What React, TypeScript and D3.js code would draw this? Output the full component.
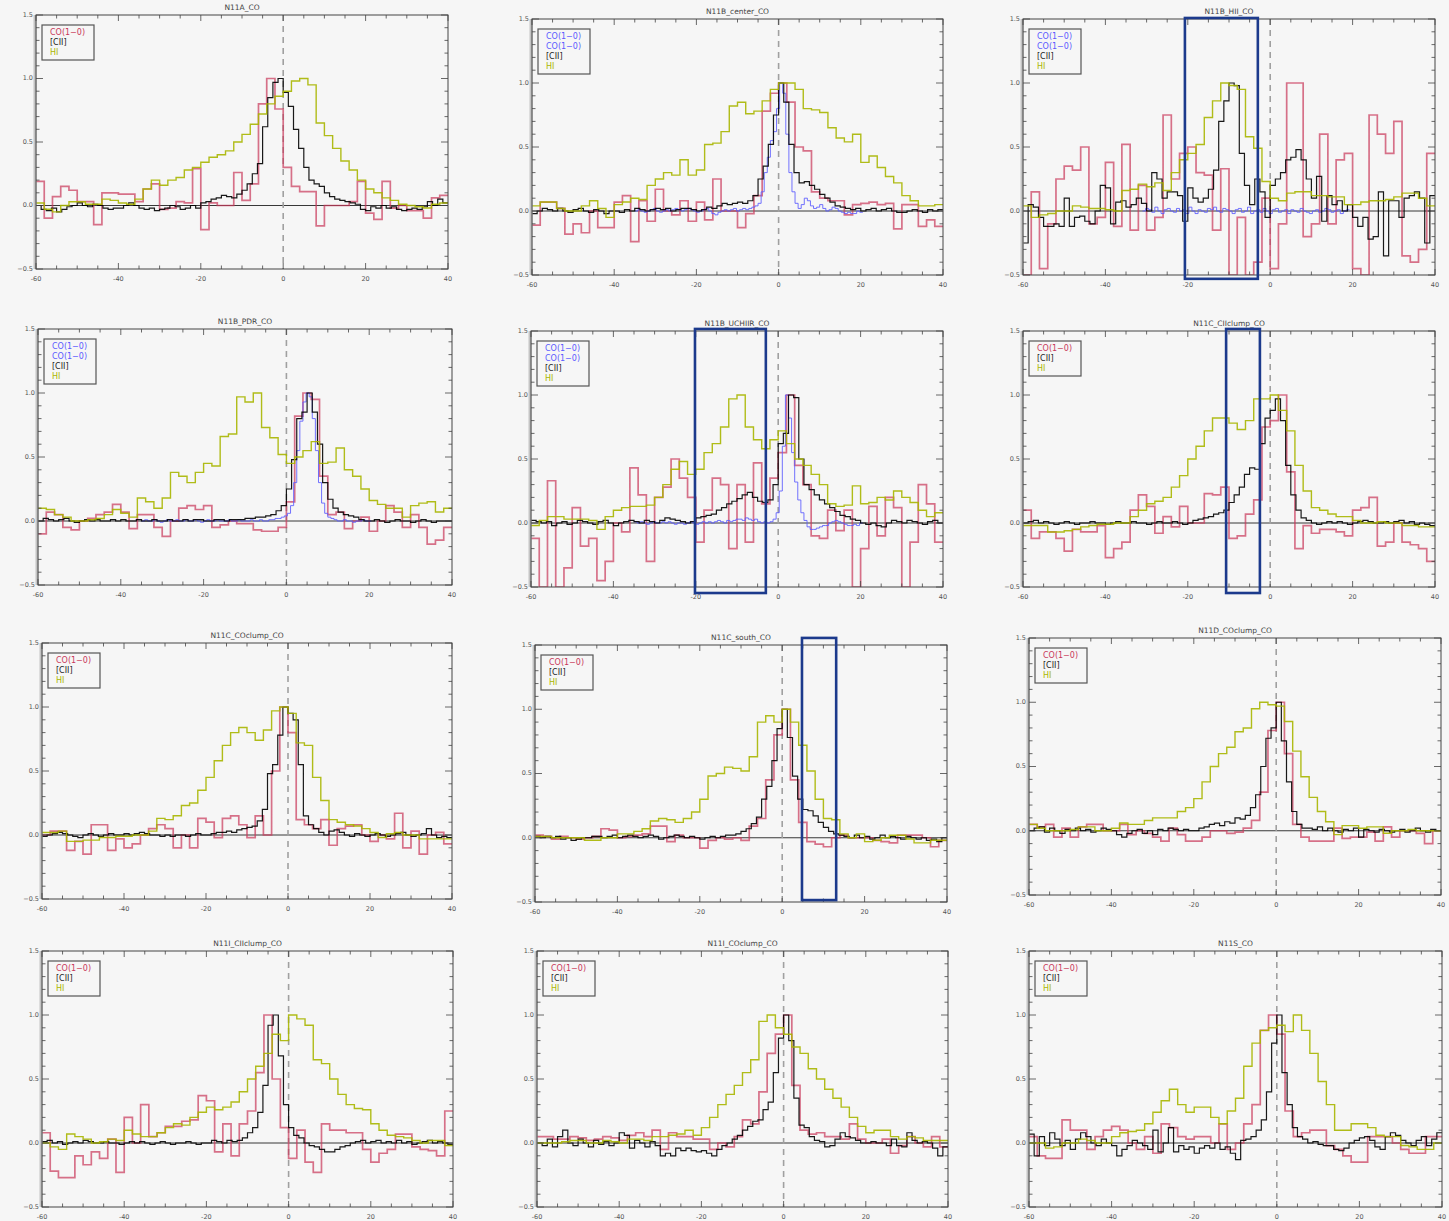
import React from 'react';
import * as d3 from 'd3';

const W = 1449;
const H = 1221;
const X_DOMAIN: [number, number] = [-60, 40];
const Y_DOMAIN: [number, number] = [-0.5, 1.5];
const X_TICK_LABELS = [-60, -40, -20, 0, 20, 40];
const Y_TICK_LABELS = [-0.5, 0.0, 0.5, 1.0, 1.5];

const CO_START = -60, CO_STEP = 2;
const CII_START = -60, CII_STEP = 1.25;
const HI_START = -60, HI_STEP = 2;
const BLUE_STEP = 0.75;
const BLUE_START_WIDE = -35;
const BLUE_START_HII = -31;

const titles = [
  'N11A_CO', 'N11B_center_CO', 'N11B_HII_CO',
  'N11B_PDR_CO', 'N11B_UCHIIR_CO', 'N11C_CIIclump_CO',
  'N11C_COclump_CO', 'N11C_south_CO', 'N11D_COclump_CO',
  'N11I_CIIclump_CO', 'N11I_COclump_CO', 'N11S_CO',
];

// ---------- N11A ----------
const co_N11A = [0.19,-0.1,0.07,0.15,0.12,0.03,0.03,-0.15,0.1,0.1, 0.09,0.09,0.03,0.13,0.17,-0.03,-0.02,0.03,0.02,0.29, -0.19,0.02,0.0,0.0,0.26,0.04,0.17,0.8,1.0,0.76, 0.3,0.15,0.11,0.11,-0.16,0.0,0.0,0.0,0.03,0.19, -0.06,-0.11,0.19,-0.02,0.0,-0.04,-0.04,-0.1,0.06,0.08];
const cii_N11A = [0.0,-0.03,-0.04,-0.02,-0.05,-0.03,-0.01,0.0,0.02,0.0, -0.01,0.01,0.0,-0.02,-0.03,-0.02,-0.02,0.0,0.02,0.0, -0.02,-0.03,-0.02,-0.04,-0.03,-0.02,0.0,-0.01,-0.03,-0.02, 0.0,-0.02, 0.02,0.03,0.05,0.06,0.08,0.07,0.06,0.09,0.12,0.17,0.25,0.33,0.62,0.85,0.97,1.0, 0.89,0.78,0.6,0.45,0.3,0.2,0.17,0.15,0.1,0.07,0.05,0.04,0.03,0.02,0.01,-0.03, -0.04,-0.01,-0.02,0.0,-0.02,-0.01,-0.03,-0.04,-0.03,-0.02,-0.03,-0.01,0.03,0.0,0.05,0.02];
const hi_N11A = [0.02,-0.03,-0.05,0.0,0.03,0.03,0.01,0.01,0.05,0.04, 0.02,0.01,0.05,0.13,0.2,0.16,0.2,0.22,0.28,0.3, 0.34,0.38,0.4,0.43,0.5,0.56,0.64,0.72,0.8,0.86, 0.9,0.98,1.0,0.95,0.65,0.55,0.45,0.35,0.28,0.2, 0.13,0.1,0.06,0.04,0.01,0.0,-0.01,-0.02,0.01,0.02];

// ---------- N11B_center ----------
const co_N11Bc = [-0.11,0.07,0.07,0.02,-0.18,-0.1,-0.17,0.0,-0.13,-0.13, 0.07,0.12,-0.24,0.08,-0.08,0.17,0.0,-0.03,0.08,-0.08, 0.07,-0.07,0.25,0.0,0.0,-0.13,-0.02,0.12,0.78,0.92, 1.0,0.85,0.5,0.47,0.15,0.1,0.08,0.08,-0.03,0.05, 0.06,0.07,0.05,0.06,-0.14,0.05,0.05,-0.12,-0.07,-0.12];
const cii_N11Bc = [-0.02,0.0,0.02,0.01,0.0,0.02,0.0,-0.01,0.01,0.02, 0.0,-0.01,0.01,0.0,-0.02,0.0,0.0,-0.01,0.01,0.0, 0.02,0.01,0.0,0.01,0.02,0.01,0.02,0.0,0.01,0.02, 0.02,0.01,0.0,0.01,0.03,0.02, 0.04,0.06,0.05,0.06,0.07,0.06,0.08,0.12,0.25,0.35, 0.52,0.75,1.0,0.85,0.52,0.3,0.22,0.23,0.2,0.17, 0.13,0.1,0.07,0.04,0.03,0.02,0.01,0.02, 0.0,0.01,0.02,0.0,0.01,0.02,0.0,-0.01,-0.01,0.0,0.01,0.0,-0.01,0.01,0.0,0.01];
const hi_N11Bc = [0.04,0.07,0.07,0.02,0.0,0.0,0.04,0.08,0.02,-0.05, 0.05,0.07,0.1,0.09,0.2,0.25,0.3,0.28,0.4,0.28, 0.32,0.52,0.53,0.62,0.82,0.85,0.76,0.78,0.86,0.95, 1.0,1.0,0.95,0.8,0.79,0.77,0.65,0.57,0.54,0.6, 0.38,0.43,0.34,0.27,0.22,0.12,0.08,0.04,0.04,0.05];
const blue_N11Bc = [0.0,0.01,0.0,-0.01,0.0,0.01,0.02,0.0,-0.01,0.0, 0.01,0.0,0.01,0.02,0.01,0.0,0.01,0.02,0.01,0.0, -0.01,0.0,0.01,0.02,0.0,-0.02,-0.03,-0.01,0.0,0.01, 0.0,0.01,0.02,0.0,0.01,0.02,0.01,0.02,0.03,0.04, 0.06,0.15,0.3,0.42,0.55,0.62,0.8,1.0,0.92,0.6, 0.3,0.15,0.06,0.02,0.05,0.1,0.08,0.04,0.02,0.03, 0.05,0.02,0.0,0.01,0.03,0.02,0.0,-0.01,-0.02,-0.01, -0.02,-0.02,0.0,-0.01];

// ---------- N11B_HII ----------
const co_N11Bh = [-0.5,0.15,-0.45,-0.1,0.25,0.35,0.32,0.5,-0.1,-0.05, 0.38,-0.12,0.52,-0.15,0.2,-0.15,-0.05,0.75,0.25,0.45, 0.5,0.3,0.28,-0.15,0.33,-0.5,-0.05,-0.5,-0.4,0.1, -0.45,-0.1,1.0,1.0,-0.2,-0.1,0.6,-0.1,0.4,0.45, -0.45,-0.5,0.75,0.6,0.45,0.7,-0.35,-0.4,-0.3,0.45];
const cii_N11Bh = [-0.25,0.05,0.03,-0.05,-0.12,-0.12,-0.1,-0.12,0.1,-0.12, -0.05,-0.04,-0.08,-0.1,0.0,0.2,0.18,-0.1,0.07,0.08, 0.03,0.05,0.1,0.06,0.0,0.3,0.25,0.1,0.15,0.15, 0.12,-0.08,0.18,0.1,0.07,0.1,0.17,0.32,0.7,0.86, 1.0,0.98,0.45,0.2,0.05,0.25,0.15,-0.05,0.2,0.25, 0.3,0.4,0.42,0.48,0.4,0.25,0.1,0.27,-0.08,0.12, 0.05,0.08,0.0,0.05,-0.05,-0.12,-0.05,-0.22,-0.2,0.15, -0.35,0.08,0.08,-0.05,0.1,0.12,0.15,0.1,-0.25,0.12];
const hi_N11Bh = [0.04,-0.05,-0.03,-0.02,0.0,0.0,0.04,0.03,0.02,0.02, 0.01,0.0,0.16,0.17,0.21,0.19,0.22,0.16,0.3,0.4, 0.45,0.52,0.73,0.86,1.0,0.98,0.95,0.58,0.49,0.23, 0.1,0.08,0.14,0.15,0.15,0.12,0.12,0.11,0.11,0.05, 0.05,0.07,0.08,0.08,0.09,0.11,0.14,0.14,0.1,0.04];
const blue_N11Bh = [0.0,0.02,0.01,-0.01,0.03,0.0,-0.02,0.01,0.02,0.0, -0.01,0.02,0.0,0.01,-0.02,0.03,0.0,-0.02,0.01,0.0, -0.01,0.02,0.01,0.03,0.0,-0.01,0.02,0.01,0.0,-0.02, 0.01,0.02,-0.01,0.0,0.03,-0.02,0.0,0.01,-0.01,0.02, 0.0,-0.02,0.01,0.02,-0.01,0.0,0.01,-0.02,0.01,0.0, -0.01,0.02,0.0,-0.01,-0.02,0.0,0.01,-0.01,0.0,0.02, 0.01,-0.01,0.0,0.01,-0.02,0.0,0.01];

// ---------- N11B_PDR ----------
const co_N11Bp = [-0.1,0.07,0.05,-0.05,-0.07,0.0,0.02,0.05,0.07,0.13, 0.07,-0.06,0.05,0.05,-0.05,-0.12,0.0,0.1,0.12,0.09, 0.12,-0.05,-0.03,0.0,-0.02,-0.02,-0.07,-0.08,-0.08,-0.05, 0.15,0.82,1.0,0.95,0.35,0.05,0.07,-0.06,0.0,0.03, -0.08,0.0,0.12,0.07,-0.05,0.05,-0.05,-0.18,-0.15,-0.05];
const cii_N11Bp = [0.0,0.02,0.01,0.0,0.01,0.02,0.0,-0.01,0.0,0.01, 0.0,0.01,0.0,0.0,0.01,0.0,0.01,0.0,0.0,0.01, 0.0,0.0,0.01,0.0,0.0,0.01,0.0,0.0,0.01,0.0, 0.01,0.01,0.0,0.0,0.01,0.01,0.0,0.01,0.01,0.01, 0.02,0.02,0.03,0.03, 0.04,0.05,0.08,0.12,0.25,0.48,0.8,0.85,1.0,0.85, 0.6,0.3,0.17,0.1,0.07,0.05,0.04,0.03,0.01,0.0, 0.0,0.01,0.0,-0.01,0.0,0.01,0.0,0.0,-0.01,0.0,0.01,0.0,-0.01,0.0,0.0,0.0];
const hi_N11Bp = [0.1,0.09,0.05,0.03,0.0,0.0,0.01,0.02,0.05,0.09, 0.06,0.03,0.18,0.15,0.1,0.18,0.38,0.35,0.3,0.38, 0.45,0.43,0.66,0.68,0.97,0.93,1.0,0.73,0.65,0.52, 0.45,0.5,0.55,0.62,0.45,0.46,0.57,0.4,0.35,0.25, 0.16,0.13,0.1,0.1,0.03,0.12,0.14,0.15,0.07,0.1];
const blue_N11Bp = [0.0,0.01,0.0,0.0,0.01,0.0,-0.01,0.0,0.01,0.0, 0.0,0.01,0.0,0.0,0.01,0.0,0.0,0.01,0.0,-0.01, 0.0,0.01,0.0,0.0,0.01,0.0,0.0,0.0,0.01,0.0, 0.0,0.01,0.0,0.0,0.0,0.01,0.0,0.0,0.01,0.0, 0.0,0.01,0.01,0.02,0.02,0.03, 0.04,0.06,0.12,0.3,0.55,0.78,0.93,1.0,0.97,0.8, 0.55,0.3,0.14,0.06,0.03,0.02,0.01, 0.0,0.0,0.01,0.0,0.0,-0.01,0.0,0.0,0.01,0.0,0.0];

// ---------- N11B_UCHIIR ----------
const co_N11Bu = [-0.12,-0.5,0.33,-0.5,-0.35,0.12,-0.18,-0.12,-0.45,-0.3, 0.0,-0.07,0.43,0.22,-0.3,0.2,0.28,0.5,0.35,0.2, -0.15,0.1,0.35,0.3,-0.2,0.3,-0.15,0.47,0.15,0.35, 0.55,1.0,0.45,0.3,-0.1,-0.12,0.1,-0.06,0.1,-0.5, -0.2,0.13,-0.1,0.2,0.12,-0.5,-0.15,0.3,0.15,-0.15];
const cii_N11Bu = [0.02,0.01,0.0,0.01,-0.02,0.0,0.01,-0.01,0.0,0.02, 0.01,0.0,-0.01,0.01,0.02,0.0,-0.02,0.0,0.01,0.02, 0.01,0.0,0.02,0.01,0.0,0.02,0.04,0.03,0.02,0.01, 0.0,0.01, 0.04,0.05,0.06,0.07,0.1,0.12,0.15,0.17,0.19,0.22, 0.24,0.2,0.17,0.16,0.18,0.3,0.62,0.7,1.0,0.98, 0.5,0.3,0.26,0.22,0.18,0.15,0.12,0.09,0.06,0.05, 0.03,0.02, 0.0,-0.01,0.0,-0.02,-0.03,0.0,0.02,0.01,0.0,0.02,0.01,0.0,-0.01,0.01,0.02,0.0];
const hi_N11Bu = [-0.02,0.02,0.05,0.05,0.03,0.03,0.03,0.02,-0.05,0.05, 0.1,0.12,0.13,0.13,0.14,0.2,0.3,0.42,0.48,0.38, 0.42,0.55,0.62,0.75,0.97,1.0,0.75,0.65,0.58,0.65, 0.72,0.62,0.5,0.45,0.38,0.3,0.15,0.13,0.14,0.29, 0.15,0.16,0.2,0.18,0.25,0.2,0.16,0.1,0.05,0.08];
const blue_N11Bu = [0.01,0.0,0.01,0.0,-0.01,0.0,0.01,0.0,0.0,0.01, 0.0,0.01,0.0,-0.01,0.0,0.0,-0.01,0.0,0.01,0.0, -0.01,0.0,0.01,0.0,0.01,0.0,0.01,0.02,0.01,0.0, 0.02,0.01,0.02,0.03, 0.03,0.02,0.04,0.03,0.02,0.03,0.01,0.0,0.01,0.0, 0.01,0.03,0.08,0.25,0.6,1.0,0.82,0.55,0.32,0.18, 0.08,0.02,-0.03,-0.05,-0.05,-0.04,-0.03,-0.02,-0.02,0.0, 0.01,0.02,0.01,0.0,-0.01,-0.02,-0.02,-0.01,-0.02,0.0];

// ---------- N11C_CIIclump ----------
const co_N11Cc = [0.1,-0.12,-0.07,-0.07,-0.12,-0.22,-0.05,-0.07,-0.07,-0.02, -0.27,-0.2,-0.15,0.1,0.22,0.13,-0.08,0.05,-0.03,0.13, 0.0,0.0,0.23,0.22,0.28,-0.12,-0.1,0.07,0.18,0.75, 0.8,1.0,0.4,-0.2,-0.02,-0.08,-0.05,-0.05,-0.07,-0.1, 0.1,0.12,0.2,-0.18,-0.15,0.0,-0.15,-0.17,-0.2,-0.3];
const cii_N11Cc = [0.0,0.01,0.02,0.0,0.01,0.0,-0.01,0.0,0.01,0.0, -0.01,0.0,0.0,0.01,0.0,0.0,-0.01,0.0,0.01,0.0, 0.0,0.01,0.0,0.0,-0.01,0.0,0.01,0.0,0.0,0.01, 0.0,-0.01, 0.0,0.02,0.03,0.04,0.05,0.07,0.08,0.1,0.16,0.22, 0.28,0.38,0.43,0.42,0.62,0.82,0.88,0.97,0.8,0.45, 0.22,0.1,0.04,0.02,0.0,-0.01, 0.0,0.01,0.0,0.01,0.0,-0.01,0.0,0.01,0.02,0.01, 0.0,0.0,0.01,0.0,0.01,0.02,0.0,0.01,-0.01,0.0, -0.01,-0.02];
const hi_N11Cc = [-0.02,-0.02,-0.02,-0.07,-0.07,-0.06,-0.05,-0.03,-0.02,-0.01, -0.01,0.0,0.0,0.05,0.1,0.15,0.17,0.2,0.28,0.37, 0.5,0.6,0.72,0.82,0.82,0.78,0.73,0.8,0.97,0.97, 1.0,0.88,0.72,0.45,0.25,0.12,0.1,0.07,0.05,0.05, 0.02,0.0,0.0,0.01,0.0,0.0,-0.02,-0.02,-0.03,-0.03];

// ---------- N11C_COclump ----------
const co_N11Cco = [0.0,0.03,0.03,-0.12,-0.05,-0.15,0.08,0.08,-0.12,-0.03, -0.1,-0.07,0.0,0.05,0.08,0.05,-0.1,0.0,-0.1,0.13, 0.1,-0.02,0.13,0.15,0.08,-0.02,0.15,0.0,0.5,1.0, 0.8,0.12,0.08,0.05,0.12,-0.08,0.05,0.07,0.08,0.0, -0.05,0.0,-0.03,0.17,-0.1,0.03,-0.15,0.0,0.02,-0.07];
const cii_N11Cco = [-0.01,0.0,0.01,0.02,0.01,0.0,-0.01,-0.02,0.0,0.01, 0.0,-0.01,0.0,0.01,0.0,0.0,0.01,0.0,0.01,0.02, 0.01,0.0,0.0,-0.01,0.0,-0.01,0.0,0.0,-0.01,0.0, 0.01,0.0,0.0,0.01,0.02,0.02,0.03,0.02,0.04, 0.05,0.06,0.07,0.11,0.2,0.48,0.55,0.78,1.0,0.95, 0.9,0.55,0.15,0.08,0.05,0.02,0.0,0.03,0.04,0.02, 0.0, -0.01,0.01,0.0,-0.01,0.0,0.01,0.0,-0.01,0.0,0.01, 0.02,0.0,-0.01,0.0,0.01,0.05,0.0,-0.02,-0.01,-0.02];
const hi_N11Cco = [0.02,0.02,0.03,-0.05,-0.05,-0.04,-0.04,-0.02,-0.02,-0.01, -0.01,0.0,0.0,0.03,0.13,0.12,0.15,0.23,0.25,0.35, 0.45,0.58,0.7,0.8,0.84,0.8,0.74,0.82,0.97,1.0, 0.95,0.72,0.7,0.45,0.27,0.12,0.1,0.08,0.07,0.05, 0.02,-0.02,0.01,0.02,0.0,0.0,-0.03,-0.03,-0.03,-0.03];

// ---------- N11C_south ----------
const co_N11Cs = [0.02,0.01,-0.01,0.01,0.0,-0.01,0.0,0.01,0.07,0.06, 0.0,0.01,0.02,0.03,0.09,0.09,-0.03,0.02,0.0,0.0, -0.08,-0.02,0.0,-0.01,0.0,-0.02,0.09,0.15,0.45,0.8, 1.0,0.45,0.12,-0.03,-0.05,-0.07,0.0,0.02,0.0,0.0, 0.0,-0.02,-0.03,-0.04,0.02,0.02,0.02,0.0,-0.07,-0.02];
const cii_N11Cs = [0.01,0.0,0.01,0.0,0.01,-0.01,0.0,-0.02,-0.01,0.0, 0.0,0.01,0.01,0.0,0.01,0.02,0.0,0.01,0.02,0.01, 0.0,0.01,0.02,0.01,-0.01,0.0,0.01,0.02,0.01,0.0, 0.01,0.0,-0.01,0.0,0.01,0.0, 0.01,0.02,0.02,0.03,0.05,0.07,0.11,0.16,0.3,0.4, 0.6,0.85,1.0,0.78,0.48,0.3,0.22,0.21,0.17,0.12, 0.08,0.05,0.03,0.02, 0.01,0.0,0.02,0.0,0.01,-0.01,0.0,0.02,0.0,0.01, 0.0,-0.01,0.01,0.0,-0.01,0.0,-0.02,-0.01,-0.03,0.0];
const hi_N11Cs = [0.01,0.01,0.0,0.0,0.0,0.0,-0.02,-0.02,0.0,0.0, 0.03,0.03,0.05,0.07,0.13,0.15,0.14,0.12,0.15,0.2, 0.3,0.48,0.5,0.55,0.54,0.52,0.63,0.9,0.95,0.9, 1.0,0.9,0.72,0.52,0.3,0.15,0.14,0.03,0.0,0.03, -0.03,-0.02,0.0,0.02,0.02,-0.01,-0.04,-0.04,-0.02,-0.02];

// ---------- N11D_COclump ----------
const co_N11D = [0.05,0.03,0.05,-0.05,0.02,-0.05,0.03,0.05,0.05,0.0, 0.0,0.05,-0.03,0.0,-0.02,-0.05,-0.08,0.02,-0.03,-0.08, -0.08,-0.05,0.0,0.0,-0.02,-0.01,0.02,0.08,0.3,0.78, 1.0,0.6,0.05,-0.05,-0.08,-0.08,-0.08,0.02,-0.06,-0.05, -0.05,-0.01,-0.08,0.03,-0.05,0.0,0.0,-0.02,-0.1,0.0];
const cii_N11D = [0.0,0.02,0.03,-0.01,0.02,0.0,-0.02,0.01,0.0,0.02, 0.0,0.01,-0.01,0.0,0.02,0.01,0.0,-0.03,-0.05,-0.02, 0.0,0.01,-0.02,0.0,-0.03,0.01,0.0,0.02,0.01,0.0, 0.01,0.0, 0.0,0.02,0.03,0.05,0.06,0.04,0.07,0.06,0.1,0.09, 0.12,0.18,0.28,0.5,0.72,0.8,1.0,0.7,0.38,0.15, 0.05,0.02,0.02,0.01,0.03,0.0,0.02,0.0,-0.01,0.01, 0.0,0.02, -0.05,0.01,0.0,-0.01,0.01,0.0,-0.01,0.0,0.01,-0.01,0.0,0.02,0.0,-0.01,0.01,0.0];
const hi_N11D = [0.05,0.02,0.0,0.0,0.0,0.01,0.03,0.03,0.0,0.0, 0.02,0.06,0.05,0.05,0.08,0.1,0.1,0.1,0.15,0.18, 0.25,0.38,0.5,0.6,0.65,0.77,0.8,0.95,1.0,0.98, 0.97,0.85,0.62,0.42,0.26,0.15,0.07,-0.03,0.04,0.04, 0.02,0.03,0.03,-0.02,0.0,0.0,0.01,0.0,0.0,0.0];

// ---------- N11I_CIIclump ----------
const co_N11Ic = [0.08,-0.22,-0.27,-0.27,-0.1,-0.17,-0.07,-0.12,0.03,-0.23, 0.2,0.0,0.3,0.05,0.08,0.13,0.13,0.17,0.18,0.37, 0.33,-0.07,0.15,-0.1,0.15,0.25,0.55,1.0,0.5,0.12, -0.12,0.1,-0.15,-0.23,0.15,0.1,0.1,0.08,0.08,-0.05, -0.15,-0.08,-0.05,0.07,0.07,-0.03,-0.05,-0.06,-0.1,0.25];
const cii_N11Ic = [0.01,0.02,0.0,0.01,-0.01,0.0,0.01,0.0,0.02,0.01, 0.0,0.0,0.01,0.0,0.0,-0.01,0.0,0.01,0.0,0.01, 0.0,-0.01,0.0,0.01,0.0,-0.01,0.0,0.0,0.01,0.0, -0.01,0.0,0.0,0.02,0.01,0.0,0.02,0.01, 0.02,0.04,0.08,0.12,0.24,0.45,0.92,1.0,0.68,0.3, 0.12,0.06,0.04,0.0,-0.02,-0.03,-0.05,-0.07,-0.07,-0.05, -0.03,-0.02,0.0, 0.01,0.02,0.0,0.01,0.02,0.0,0.01,0.0,0.02,0.0, 0.01,-0.01,0.0,0.01,0.02,0.0,0.01,0.0,-0.01];
const hi_N11Ic = [0.0,-0.03,-0.05,0.07,0.05,0.03,0.0,0.01,0.03,0.02, 0.1,0.07,0.05,0.05,0.08,0.12,0.15,0.14,0.2,0.24, 0.28,0.26,0.28,0.32,0.4,0.5,0.6,0.7,0.85,0.8, 1.0,0.97,0.92,0.65,0.62,0.5,0.38,0.3,0.27,0.26, 0.15,0.1,0.06,0.05,0.04,0.02,0.0,0.02,0.02,-0.02];

// ---------- N11I_COclump ----------
const co_N11Ico = [0.05,0.05,0.03,0.03,0.05,0.04,0.02,0.03,0.05,0.04, 0.02,0.06,0.08,0.05,0.1,-0.05,0.08,0.05,0.05,0.03, 0.03,-0.05,0.0,-0.03,0.05,0.18,0.15,0.4,0.7,0.85, 1.0,0.45,0.1,0.07,0.08,0.05,0.05,0.03,0.15,0.03, 0.0,0.0,0.03,-0.08,-0.02,0.05,0.0,-0.03,0.05,-0.03];
const cii_N11Ico = [0.0,-0.02,0.03,-0.03,0.05,0.1,0.0,-0.02,0.03,0.0, -0.03,0.02,-0.01,0.01,-0.02,0.0,0.08,0.06,-0.04,0.02, 0.0,-0.03,0.01,-0.02, -0.1,-0.08,-0.1,-0.04,-0.06,-0.04,-0.06,-0.07,-0.06,-0.08, -0.1,-0.05,-0.02,0.0,0.03,0.06,0.1,0.13,0.17,0.18, 0.26,0.32,0.55,0.82,1.0,0.8,0.35,0.14,0.12,0.05, 0.02,0.01, -0.03,-0.02,0.03,0.08,0.05,0.04,0.02,0.0,0.0,0.01, 0.0,0.0,-0.02,0.03,-0.02,-0.03,0.08,0.02,0.0,0.01, 0.0,-0.04,-0.1,-0.03];
const hi_N11Ico = [0.0,0.0,0.0,0.01,0.02,0.02,0.0,0.0,0.02,0.01, 0.0,0.03,0.03,0.02,0.05,0.05,0.06,0.07,0.1,0.06, 0.12,0.2,0.3,0.38,0.45,0.55,0.65,0.95,1.0,0.9, 0.85,0.75,0.7,0.58,0.5,0.42,0.35,0.28,0.2,0.13, 0.08,0.1,0.1,0.05,0.03,0.05,0.04,0.02,0.02,0.02];

// ---------- N11S ----------
const co_N11S = [0.05,-0.1,-0.12,-0.12,0.18,0.1,0.1,-0.05,0.05,0.1, 0.13,0.1,0.0,-0.05,0.05,-0.08,0.15,0.12,0.05,0.03, 0.05,0.05,0.0,0.15,-0.05,0.0,0.15,0.3,0.88,1.0, 0.85,0.25,0.05,0.08,0.1,0.1,-0.02,-0.05,-0.1,-0.15, -0.15,0.05,0.05,0.05,0.0,-0.05,-0.08,-0.08,0.05,0.05];
const cii_N11S = [0.07,-0.1,0.05,-0.02,0.08,0.03,-0.02,0.02,-0.05,0.03, 0.08,0.05,0.0,-0.02,0.03,0.0,-0.02,-0.1,-0.05,-0.02, 0.02,0.0,-0.02,-0.05,0.1,-0.07,0.0,0.12,-0.07,-0.02, -0.05,-0.03,-0.08,-0.04,-0.02,-0.04,0.0,-0.05,-0.03,-0.08, -0.13,0.02,0.03,0.05,0.1,0.18,0.4,0.78,1.0,0.55, 0.3,0.12,0.05,0.03,0.0,0.01,-0.01,-0.02,-0.02,-0.05, -0.06,-0.04,0.0,0.02,0.04,0.05,0.02,-0.03,-0.05,0.05, 0.08,0.06,0.02,0.0,-0.02,0.02,0.05,-0.02,0.03,0.08];
const hi_N11S = [0.0,0.0,-0.04,-0.03,0.0,0.0,0.03,0.02,0.0,0.0, 0.05,0.08,0.09,0.1,0.15,0.24,0.33,0.42,0.3,0.24, 0.28,0.28,0.2,0.15,0.25,0.35,0.6,0.78,0.88,0.9, 0.92,0.87,1.0,0.88,0.7,0.48,0.3,0.1,0.1,0.15, 0.15,0.12,0.06,0.05,0.05,-0.02,-0.03,-0.05,-0.05,0.0];

// highlighted velocity windows: [vLow, vHigh, yTop, yBottom] in data units
const box_N11Bh = [-20.7, -3.0, 1.508, -0.53];
const box_N11Bu = [-20.2, -3.0, 1.516, -0.547];
const box_N11Cc = [-10.7, -2.5, 1.516, -0.547];
const box_N11Cs = [4.8, 13.1, 1.555, -0.485];

// plot-area layout (pixels)
const panelLayout = [
  { x0: 36, x1: 448, y0: 15, y1: 269 },
  { x0: 532, x1: 943, y0: 19, y1: 275 },
  { x0: 1023, x1: 1435, y0: 19, y1: 275 },
  { x0: 38, x1: 452, y0: 329, y1: 585 },
  { x0: 531, x1: 943, y0: 331, y1: 587 },
  { x0: 1023, x1: 1435, y0: 331, y1: 587 },
  { x0: 42, x1: 452, y0: 643, y1: 899 },
  { x0: 535, x1: 947, y0: 645, y1: 902 },
  { x0: 1029, x1: 1441, y0: 638, y1: 895 },
  { x0: 42, x1: 453, y0: 951, y1: 1207 },
  { x0: 537, x1: 948, y0: 951, y1: 1207 },
  { x0: 1029, x1: 1442, y0: 951, y1: 1207 },
];

type Panel = {
  title: string;
  co: number[];
  cii: number[];
  hi: number[];
  blue?: number[];
  blueStart?: number;
  box?: number[];
};

const panels: Panel[] = [
  { title: titles[0], co: co_N11A, cii: cii_N11A, hi: hi_N11A },
  { title: titles[1], co: co_N11Bc, cii: cii_N11Bc, hi: hi_N11Bc, blue: blue_N11Bc, blueStart: BLUE_START_WIDE },
  { title: titles[2], co: co_N11Bh, cii: cii_N11Bh, hi: hi_N11Bh, blue: blue_N11Bh, blueStart: BLUE_START_HII, box: box_N11Bh },
  { title: titles[3], co: co_N11Bp, cii: cii_N11Bp, hi: hi_N11Bp, blue: blue_N11Bp, blueStart: BLUE_START_WIDE },
  { title: titles[4], co: co_N11Bu, cii: cii_N11Bu, hi: hi_N11Bu, blue: blue_N11Bu, blueStart: BLUE_START_WIDE, box: box_N11Bu },
  { title: titles[5], co: co_N11Cc, cii: cii_N11Cc, hi: hi_N11Cc, box: box_N11Cc },
  { title: titles[6], co: co_N11Cco, cii: cii_N11Cco, hi: hi_N11Cco },
  { title: titles[7], co: co_N11Cs, cii: cii_N11Cs, hi: hi_N11Cs, box: box_N11Cs },
  { title: titles[8], co: co_N11D, cii: cii_N11D, hi: hi_N11D },
  { title: titles[9], co: co_N11Ic, cii: cii_N11Ic, hi: hi_N11Ic },
  { title: titles[10], co: co_N11Ico, cii: cii_N11Ico, hi: hi_N11Ico },
  { title: titles[11], co: co_N11S, cii: cii_N11S, hi: hi_N11S },
];

const COLORS = {
  co: '#c9385a',
  cii: '#000000',
  hi: '#a9b600',
  blue: '#5a5aff',
  box: '#1c3a8c',
  bg: '#f6f6f6',
};

const FONT = '"DejaVu Sans", "Liberation Sans", Arial, sans-serif';

function stepPath(values: number[], start: number, step: number, xs: d3.ScaleLinear<number, number>, ys: d3.ScaleLinear<number, number>) {
  const pts: [number, number][] = values.map((v, i) => [start + i * step, v]);
  pts.push([start + values.length * step, values[values.length - 1]]);
  return d3.line<[number, number]>().x(d => xs(d[0])).y(d => ys(d[1])).curve(d3.curveStepAfter)(pts) || '';
}

const xMinor = d3.range(-60, 41, 5);
const yMinor = d3.range(-5, 16).map(i => i / 10);

function PanelView({ p, lay, idx }: { p: Panel; lay: typeof panelLayout[0]; idx: number }) {
  const xs = d3.scaleLinear().domain(X_DOMAIN).range([lay.x0, lay.x1]);
  const ys = d3.scaleLinear().domain(Y_DOMAIN).range([lay.y1, lay.y0]);
  const clipId = `clip-${idx}`;
  const legend = p.blue
    ? [{ t: 'CO(1\u22120)', c: COLORS.blue }, { t: 'CO(1\u22120)', c: COLORS.blue }, { t: '[CII]', c: '#222' }, { t: 'HI', c: COLORS.hi }]
    : [{ t: 'CO(1\u22120)', c: COLORS.co }, { t: '[CII]', c: '#222' }, { t: 'HI', c: COLORS.hi }];
  const fmtY = d3.format('.1f');
  return (
    <g>
      <defs>
        <clipPath id={clipId}>
          <rect x={lay.x0} y={lay.y0} width={lay.x1 - lay.x0} height={lay.y1 - lay.y0} />
        </clipPath>
      </defs>
      {/* title */}
      <text x={(lay.x0 + lay.x1) / 2} y={lay.y0 - 5} textAnchor="middle" fontSize={7.5} fill="#444" fontFamily={FONT}>{p.title}</text>
      {/* zero line and dashed v=0 */}
      <line x1={lay.x0} x2={lay.x1} y1={ys(0)} y2={ys(0)} stroke="#222" strokeWidth={0.9} />
      <line x1={xs(0)} x2={xs(0)} y1={lay.y0} y2={lay.y1} stroke="#a0a0a0" strokeWidth={1.6} strokeDasharray="6 5" />
      {/* series */}
      <g clipPath={`url(#${clipId})`} fill="none" strokeLinejoin="miter">
        <path d={stepPath(p.co, CO_START, CO_STEP, xs, ys)} stroke={COLORS.co} strokeWidth={1.7} strokeOpacity={0.7} />
        {p.blue && (
          <path d={stepPath(p.blue, p.blueStart as number, BLUE_STEP, xs, ys)} stroke={COLORS.blue} strokeWidth={1} strokeOpacity={0.85} />
        )}
        <path d={stepPath(p.cii, CII_START, CII_STEP, xs, ys)} stroke={COLORS.cii} strokeWidth={1.2} strokeOpacity={0.9} />
        <path d={stepPath(p.hi, HI_START, HI_STEP, xs, ys)} stroke={COLORS.hi} strokeWidth={1.4} strokeOpacity={0.9} />
      </g>
      {/* frame */}
      <line x1={lay.x0 - 1} x2={lay.x0 - 1} y1={lay.y0} y2={lay.y1} stroke="#c4c4c4" strokeWidth={3} />
      <rect x={lay.x0} y={lay.y0} width={lay.x1 - lay.x0} height={lay.y1 - lay.y0} fill="none" stroke="#444" strokeWidth={1} />
      {/* x ticks */}
      {xMinor.map(v => {
        const major = v % 20 === 0;
        const len = major ? 6 : 3.5;
        return (
          <g key={`xt${v}`} stroke="#444" strokeWidth={0.8}>
            <line x1={xs(v)} x2={xs(v)} y1={lay.y1} y2={lay.y1 - len} />
            <line x1={xs(v)} x2={xs(v)} y1={lay.y0} y2={lay.y0 + len} />
          </g>
        );
      })}
      {/* y ticks */}
      {yMinor.map(v => {
        const major = Math.abs(Math.round(v * 10)) % 5 === 0;
        const len = major ? 7 : 3.5;
        return (
          <g key={`yt${v}`} stroke="#444" strokeWidth={0.8}>
            <line x1={lay.x0} x2={lay.x0 + len} y1={ys(v)} y2={ys(v)} />
            <line x1={lay.x1} x2={lay.x1 - len} y1={ys(v)} y2={ys(v)} />
          </g>
        );
      })}
      {X_TICK_LABELS.map(v => (
        <text key={`xl${v}`} x={xs(v)} y={lay.y1 + 12} textAnchor="middle" fontSize={6.5} fill="#555" fontFamily={FONT}>{v}</text>
      ))}
      {Y_TICK_LABELS.map(v => (
        <text key={`yl${v}`} x={lay.x0 - 3} y={ys(v)} textAnchor="end" dominantBaseline="middle" fontSize={6.5} fill="#555" fontFamily={FONT}>{fmtY(v)}</text>
      ))}
      {/* legend */}
      <rect x={lay.x0 + 6} y={lay.y0 + 10} width={52} height={legend.length * 10 + 5} fill="none" stroke="#555" strokeWidth={1.2} />
      {legend.map((e, i) => (
        <text key={`lg${i}`} x={lay.x0 + 14} y={lay.y0 + 17 + i * 10} dominantBaseline="middle" fontSize={8} fill={e.c} fontFamily={FONT}>{e.t}</text>
      ))}
      {/* highlight box */}
      {p.box && (
        <rect x={xs(p.box[0])} y={ys(p.box[2])} width={xs(p.box[1]) - xs(p.box[0])} height={ys(p.box[3]) - ys(p.box[2])}
          fill="none" stroke={COLORS.box} strokeWidth={2.6} />
      )}
    </g>
  );
}

export default function App() {
  return (
    <svg width={W} height={H} viewBox={`0 0 ${W} ${H}`} style={{ position: 'absolute', left: 0, top: 0, display: 'block' }}>
      <rect x={0} y={0} width={W} height={H} fill={COLORS.bg} />
      {panels.map((p, i) => (
        <PanelView key={i} p={p} lay={panelLayout[i]} idx={i} />
      ))}
    </svg>
  );
}
